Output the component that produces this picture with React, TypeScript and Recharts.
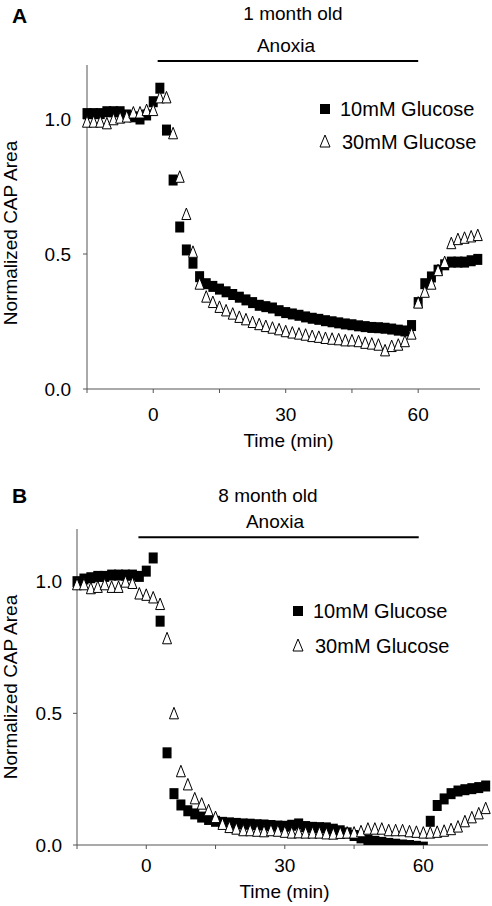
import React from 'react';
import { ScatterChart, Scatter, XAxis, YAxis, ReferenceLine } from 'recharts';

const FONT = '"Liberation Sans", Arial, Helvetica, sans-serif';

// sampling times in minutes, 0 = start of anoxia
const minutes = [
  -15, -13.5, -12, -10.5, -9, -7.5, -6, -4.5, -3, -1.5, 0, 1.5,
  3, 4.5, 6, 7.5, 9, 10.5, 12, 13.5, 15, 16.5,
  18, 19.5, 21, 22.5, 24, 25.5, 27, 28.5, 30, 31.5,
  33, 34.5, 36, 37.5, 39, 40.5, 42, 43.5, 45, 46.5,
  48, 49.5, 51, 52.5, 54, 55.5, 57, 58.5,
  60, 61.5, 63, 64.5, 66, 67.5, 69, 70.5, 72, 73.5,
];

// A: 1 month old
const glucose10A = [
  1.02, 1.02, 1.02, 1.027, 1.027, 1.027, 1.015, 1.008, 1.0, 1.015, 1.064, 1.114,
  0.959, 0.774, 0.6, 0.515, 0.466, 0.416, 0.39, 0.38, 0.37, 0.36,
  0.35, 0.34, 0.33, 0.32, 0.31, 0.305, 0.3, 0.29, 0.283, 0.278,
  0.273, 0.267, 0.262, 0.258, 0.253, 0.249, 0.245, 0.241, 0.238, 0.234,
  0.231, 0.228, 0.227, 0.225, 0.222, 0.218, 0.215, 0.235,
  0.32, 0.39, 0.415, 0.44, 0.46, 0.47, 0.47, 0.47, 0.475, 0.48,
];
const glucose30A = [
  0.99, 0.99, 0.99, 0.984, 0.999, 1.005, 1.009, 1.024, 1.024, 1.033, 1.033, 1.08,
  1.08, 0.947, 0.786, 0.648, 0.508, 0.39, 0.342, 0.322, 0.304, 0.291,
  0.279, 0.267, 0.258, 0.248, 0.24, 0.233, 0.227, 0.221, 0.214, 0.209,
  0.205, 0.201, 0.196, 0.193, 0.189, 0.186, 0.184, 0.18, 0.18, 0.177,
  0.171, 0.168, 0.164, 0.143, 0.159, 0.164, 0.177, 0.205,
  0.32, 0.36, 0.39, 0.44, 0.47, 0.54, 0.555, 0.56, 0.565, 0.57,
];

// B: 8 month old
const glucose10B = [
  1.0, 1.01, 1.015, 1.02, 1.02, 1.025, 1.025, 1.025, 1.025, 1.02, 1.04, 1.09,
  0.85, 0.35, 0.195, 0.152, 0.13, 0.118, 0.106, 0.097, 0.09, 0.086,
  0.084, 0.082, 0.08, 0.079, 0.077, 0.076, 0.074, 0.072, 0.071, 0.075,
  0.08, 0.07, 0.067, 0.066, 0.065, 0.06, 0.054, 0.046, 0.036, 0.027,
  0.019, 0.014, 0.01, 0.006, 0.003, 0.0, -0.002, -0.005,
  -0.008, 0.09, 0.15, 0.175, 0.195, 0.205, 0.21, 0.214, 0.218, 0.224,
];
const glucose30B = [
  0.99, 0.99, 0.975, 0.98, 0.99, 0.98, 0.98, 1.0, 0.995, 0.955, 0.95, 0.94,
  0.915, 0.785, 0.5, 0.28, 0.23, 0.177, 0.157, 0.132, 0.106, 0.08,
  0.068, 0.062, 0.056, 0.056, 0.054, 0.052, 0.056, 0.054, 0.05, 0.047,
  0.048, 0.047, 0.047, 0.047, 0.044, 0.043, 0.046, 0.047, 0.047, 0.052,
  0.062, 0.062, 0.062, 0.056, 0.056, 0.056, 0.052, 0.05,
  0.047, 0.047, 0.05, 0.054, 0.06, 0.07, 0.09, 0.105, 0.12, 0.14,
];

const seriesNames = ['10mM Glucose', '30mM Glucose'];
const panelTitles = ['1 month old', '8 month old'];
const xTicks = [-15, 0, 15, 30, 45, 60];
const xLabelled = [0, 30, 60];
const yTicks = [0, 0.5, 1];
// anoxia bar: [start, end] in min, and the height it sits at
const anoxiaA = [1, 60];
const anoxiaB = [-1.7, 59];
const anoxiaLevelA = 1.215;
const anoxiaLevelB = 1.169;

const toPoints = (vals: number[]) => minutes.map((t, i) => ({ t, v: vals[i] }));

const Square = (p: any) => (
  <rect x={p.cx - 4.5} y={p.cy - 5.5} width={9} height={11} fill="#000" />
);

const Triangle = (p: any) => (
  <path
    d={`M${p.cx},${p.cy - 6}L${p.cx + 4.5},${p.cy + 5.5}L${p.cx - 4.5},${p.cy + 5.5}Z`}
    fill="#fff"
    stroke="#000"
    strokeWidth={1}
  />
);

const XTitle = (props: any) => {
  const vb = props.viewBox || { x: 0, y: 0, width: 0 };
  return (
    <text
      x={vb.x + vb.width / 2 + (props.shift || 0)}
      y={vb.y + props.baseline}
      textAnchor="middle"
      fontSize={19}
      fontFamily={FONT}
      fill="#000"
    >
      Time (min)
    </text>
  );
};

const YTitle = (props: any) => {
  const vb = props.viewBox || { x: 0, y: 0, height: 0 };
  const cy = vb.y + vb.height / 2 + (props.shift || 0);
  return (
    <text
      transform={`translate(${vb.x + 17},${cy}) rotate(-90)`}
      textAnchor="middle"
      fontSize={19}
      fontFamily={FONT}
      fill="#000"
    >
      Normalized CAP Area
    </text>
  );
};

type PanelProps = {
  height: number;
  margin: { top: number; right: number; bottom: number; left: number };
  yAxisWidth: number;
  xAxisHeight: number;
  low: number[];
  high: number[];
  anoxia: number[];
  anoxiaLevel: number;
  xTickMargin: number;
  yTickMargin: number;
  xTitleShift: number;
  xTitleBaseline: number;
  yTitleShift: number;
};

function Panel(p: PanelProps) {
  const tickStyle = { fill: '#000', fontSize: 19, fontFamily: FONT };
  return (
    <ScatterChart width={492} height={p.height} margin={p.margin}>
      <XAxis
        type="number"
        dataKey="t"
        domain={[-15, 74]}
        ticks={xTicks}
        interval={0}
        tickFormatter={(v: number) => (xLabelled.includes(v) ? String(v) : '')}
        height={p.xAxisHeight}
        tickSize={4}
        tickMargin={p.xTickMargin}
        axisLine={{ stroke: '#555' }}
        tickLine={{ stroke: '#555' }}
        tick={tickStyle}
        label={<XTitle shift={p.xTitleShift} baseline={p.xTitleBaseline} />}
      />
      <YAxis
        type="number"
        dataKey="v"
        domain={[0, 1.2]}
        allowDataOverflow
        ticks={yTicks}
        interval={0}
        tickFormatter={(v: number) => v.toFixed(1)}
        width={p.yAxisWidth}
        tickSize={4}
        tickMargin={p.yTickMargin}
        axisLine={{ stroke: '#555' }}
        tickLine={{ stroke: '#555' }}
        tick={tickStyle}
        label={<YTitle shift={p.yTitleShift} />}
      />
      <ReferenceLine
        segment={[
          { x: p.anoxia[0], y: p.anoxiaLevel },
          { x: p.anoxia[1], y: p.anoxiaLevel },
        ]}
        stroke="#000"
        strokeWidth={2}
        ifOverflow="visible"
      />
      <Scatter name={seriesNames[0]} data={toPoints(p.low)} shape={Square} isAnimationActive={false} />
      <Scatter name={seriesNames[1]} data={toPoints(p.high)} shape={Triangle} isAnimationActive={false} />
    </ScatterChart>
  );
}

function LegendBlock({ x, textX, rows }: { x: number; textX: number; rows: number[] }) {
  return (
    <g fontSize={20} fill="#000">
      <rect x={x - 5} y={rows[0] - 12} width={10} height={10} fill="#000" />
      <text x={textX} y={rows[0]}>{seriesNames[0]}</text>
      <path
        d={`M${x},${rows[1] - 14}L${x + 5},${rows[1] - 2}L${x - 5},${rows[1] - 2}Z`}
        fill="#fff"
        stroke="#000"
        strokeWidth={1}
      />
      <text x={textX + 2} y={rows[1]}>{seriesNames[1]}</text>
    </g>
  );
}

export default function App() {
  return (
    <div style={{ position: 'relative', width: 492, height: 906, background: '#fff', fontFamily: FONT }}>
      <style>{'body{margin:0}'}</style>
      <div style={{ position: 'absolute', left: 0, top: 0 }}>
        <Panel
          height={460}
          margin={{ top: 65, right: 12, bottom: 11, left: 0 }}
          yAxisWidth={87}
          xAxisHeight={60}
          low={glucose10A}
          high={glucose30A}
          anoxia={anoxiaA}
          anoxiaLevel={anoxiaLevelA}
          xTickMargin={15}
          yTickMargin={12}
          xTitleShift={5}
          xTitleBaseline={58}
          yTitleShift={6}
        />
      </div>
      <div style={{ position: 'absolute', left: 0, top: 460 }}>
        <Panel
          height={446}
          margin={{ top: 69, right: 4, bottom: 5, left: 0 }}
          yAxisWidth={77}
          xAxisHeight={56}
          low={glucose10B}
          high={glucose30B}
          anoxia={anoxiaB}
          anoxiaLevel={anoxiaLevelB}
          xTickMargin={10}
          yTickMargin={11}
          xTitleShift={2}
          xTitleBaseline={53}
          yTitleShift={0}
        />
      </div>
      <svg
        width={492}
        height={906}
        style={{ position: 'absolute', left: 0, top: 0, pointerEvents: 'none' }}
        fontFamily={FONT}
      >
        <text x={12} y={23} fontSize={21} fontWeight="bold">A</text>
        <text x={293} y={20} fontSize={19} textAnchor="middle">{panelTitles[0]}</text>
        <text x={286} y={52} fontSize={19} textAnchor="middle">Anoxia</text>
        <LegendBlock x={325} textX={340} rows={[116, 149]} />

        <text x={12} y={503} fontSize={21} fontWeight="bold">B</text>
        <text x={268} y={502} fontSize={19} textAnchor="middle">{panelTitles[1]}</text>
        <text x={275} y={528} fontSize={19} textAnchor="middle">Anoxia</text>
        <LegendBlock x={298} textX={313} rows={[618, 653]} />
      </svg>
    </div>
  );
}
